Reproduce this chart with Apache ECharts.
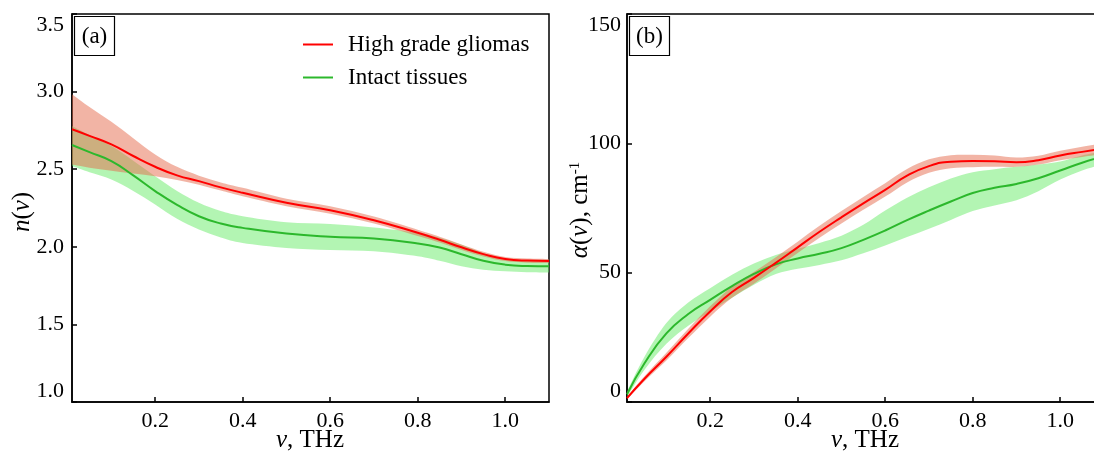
<!DOCTYPE html>
<html><head><meta charset="utf-8">
<script src="https://cdn.jsdelivr.net/npm/echarts@6/dist/echarts.min.js"></script>
<style>html,body{margin:0;padding:0;background:#fff}#c{width:1094px;height:455px}</style>
</head><body><div id="c"></div>
<script>
// ---- Panel (a): refractive index n(v) ----
const freqA = [0.01, 0.05, 0.1, 0.15, 0.2, 0.25, 0.3, 0.35, 0.4, 0.5, 0.6, 0.7, 0.8, 0.85, 0.9, 0.95, 1.0, 1.05, 1.1];
const gliomaN      = [2.757, 2.715, 2.66, 2.585, 2.516, 2.46, 2.423, 2.383, 2.348, 2.284, 2.236, 2.171, 2.09, 2.045, 1.997, 1.953, 1.921, 1.911, 1.909];
const gliomaNUpper = [2.983, 2.9, 2.805, 2.70, 2.595, 2.515, 2.458, 2.415, 2.38, 2.31, 2.262, 2.195, 2.11, 2.065, 2.015, 1.968, 1.935, 1.925, 1.922];
const gliomaNLower = [2.53, 2.51, 2.49, 2.472, 2.455, 2.43, 2.40, 2.362, 2.326, 2.262, 2.213, 2.15, 2.07, 2.028, 1.98, 1.938, 1.908, 1.898, 1.896];
const intactN      = [2.656, 2.61, 2.552, 2.46, 2.359, 2.27, 2.197, 2.15, 2.122, 2.085, 2.064, 2.053, 2.022, 1.995, 1.952, 1.91, 1.885, 1.876, 1.874];
const intactNUpper = [2.778, 2.72, 2.649, 2.555, 2.455, 2.36, 2.284, 2.23, 2.197, 2.158, 2.147, 2.125, 2.09, 2.058, 2.014, 1.96, 1.917, 1.913, 1.913];
const intactNLower = [2.52, 2.48, 2.434, 2.36, 2.273, 2.18, 2.111, 2.06, 2.025, 1.993, 1.98, 1.971, 1.939, 1.91, 1.874, 1.852, 1.842, 1.836, 1.835];

// ---- Panel (b): absorption coefficient alpha(v), cm^-1 ----
const freqB = [0.01, 0.05, 0.1, 0.15, 0.2, 0.25, 0.3, 0.35, 0.4, 0.45, 0.5, 0.55, 0.6, 0.65, 0.7, 0.75, 0.8, 0.85, 0.9, 0.95, 1.0, 1.05, 1.1];
const gliomaA      = [1.5, 9, 17.5, 26.5, 35, 42.5, 48, 53.8, 59.8, 65.8, 71.4, 76.8, 82, 87.5, 91.2, 92.9, 93.2, 93.1, 92.7, 93.5, 95.3, 96.7, 98];
const gliomaAUpper = [2, 10, 19, 28.3, 37, 44.7, 50.3, 56, 62, 68.1, 73.8, 79.3, 84.6, 90.1, 93.8, 95.4, 95.6, 95.3, 94.5, 95.2, 97.1, 98.7, 100.1];
const gliomaALower = [1, 8, 16, 24.7, 33, 40.3, 45.7, 51.6, 57.6, 63.5, 69, 74.3, 79.4, 84.9, 88.6, 90.4, 90.8, 90.9, 90.9, 91.8, 93.5, 94.7, 95.9];
const intactA      = [3, 15, 26.5, 34, 39.5, 44.8, 49.5, 53.2, 55.5, 57.3, 59.5, 62.7, 66.3, 70.3, 74, 77.5, 80.8, 82.8, 84.3, 86.5, 89.5, 92.5, 95];
const intactAUpper = [4, 17.5, 30.5, 38.5, 44, 49.2, 53.5, 56.8, 59.2, 61.5, 64.3, 68.5, 74, 79, 83, 86.4, 88.8, 90, 90.9, 91.8, 93, 95.3, 97];
const intactALower = [2, 12.5, 22.5, 29.5, 35, 40.3, 45.3, 49.5, 51.5, 53, 54.8, 57.5, 60.5, 63.8, 67, 70.4, 73.8, 76, 78, 81.5, 86, 89.5, 92];

const xTicks = [0.2, 0.4, 0.6, 0.8, 1.0];
const names = ['High grade gliomas', 'Intact tissues'];

const FONT = "'Liberation Serif','Times New Roman',serif";
const RED = '#ff0000', GREEN = '#2cb82c';
const RED_BAND = 'rgba(229,105,75,0.5)', GREEN_BAND = 'rgba(104,235,104,0.5)';

function pairs(xs, ys) { return xs.map((x, i) => [x, ys[i]]); }
// smooth curve (Catmull-Rom -> cubic Bezier) through pixel points
function curve(pts, start) {
  let d = start ? 'M' + pts[0][0] + ' ' + pts[0][1] : 'L' + pts[0][0] + ' ' + pts[0][1];
  for (let i = 0; i < pts.length - 1; i++) {
    const p0 = pts[i - 1] || pts[i], p1 = pts[i], p2 = pts[i + 1], p3 = pts[i + 2] || pts[i + 1];
    const c1 = [p1[0] + (p2[0] - p0[0]) / 6, p1[1] + (p2[1] - p0[1]) / 6];
    const c2 = [p2[0] - (p3[0] - p1[0]) / 6, p2[1] - (p3[1] - p1[1]) / 6];
    d += ' C' + c1[0] + ' ' + c1[1] + ' ' + c2[0] + ' ' + c2[1] + ' ' + p2[0] + ' ' + p2[1];
  }
  return d;
}
function band(xs, lo, hi, ai, color) {
  return {type: 'custom', xAxisIndex: ai, yAxisIndex: ai, clip: true, silent: true, z: 1,
    data: [[xs[0], lo[0]]],
    renderItem: function (params, api) {
      const up = xs.map((x, i) => api.coord([x, hi[i]]));
      const dn = xs.map((x, i) => api.coord([x, lo[i]])).reverse();
      return {type: 'path', shape: {pathData: curve(up, true) + ' ' + curve(dn, false) + ' Z'},
        style: {fill: color, stroke: null}};
    }};
}
function line(name, xs, ys, ai, color) {
  return {name: name, type: 'line', xAxisIndex: ai, yAxisIndex: ai, data: pairs(xs, ys), smooth: true,
    symbol: 'none', color: color, itemStyle: {color: color}, lineStyle: {color: color, width: 2}, z: 3};
}
function xAxis(gi) {
  return {type: 'value', gridIndex: gi, min: 0.01, max: 1.1,
    axisLine: {show: true, lineStyle: {color: '#000', width: 1.5}},
    axisTick: {show: true, inside: true, length: 5, customValues: xTicks, lineStyle: {color: '#000', width: 1.5}},
    axisLabel: {customValues: xTicks, formatter: v => v.toFixed(1), color: '#000', fontFamily: FONT, fontSize: 22, margin: 8},
    splitLine: {show: false}};
}
function yAxis(gi, min, max, interval, dec, margin) {
  return {type: 'value', gridIndex: gi, min: min, max: max, interval: interval,
    axisLine: {show: true, lineStyle: {color: '#000', width: 1.5}},
    axisTick: {show: true, inside: true, length: 5, lineStyle: {color: '#000', width: 1.5}},
    axisLabel: {formatter: v => v.toFixed(dec), color: '#000', fontFamily: FONT, fontSize: 22, margin: margin,
      verticalAlignMinLabel: 'bottom', verticalAlignMaxLabel: 'top'},
    splitLine: {show: false}};
}
function boxLabel(txt, x, y) {
  return {type: 'group', left: x, top: y, children: [
    {type: 'rect', shape: {x: 0, y: 0, width: 40, height: 39}, style: {fill: 'none', stroke: '#000', lineWidth: 1.2}},
    {type: 'text', x: 20, y: 20, style: {text: txt, fill: '#000', font: '23px ' + FONT, align: 'center', verticalAlign: 'middle'}}
  ]};
}
const NAME_SIZE = 25;
const ital = {fontStyle: 'italic', fontFamily: FONT, fontSize: NAME_SIZE, fill: '#000'};
const nameFont = NAME_SIZE + 'px ' + FONT;

const chart = echarts.init(document.getElementById('c'), null, {renderer: 'canvas'});
chart.setOption({
  animation: false,
  backgroundColor: '#fff',
  grid: [
    {left: 72, top: 14, width: 477, height: 388, show: true, borderColor: '#000', borderWidth: 1.5, containLabel: false, outerBoundsMode: 'none'},
    {left: 627, top: 14, width: 477, height: 388, show: true, borderColor: '#000', borderWidth: 1.5, containLabel: false, outerBoundsMode: 'none'}
  ],
  xAxis: [xAxis(0), xAxis(1)],
  yAxis: [yAxis(0, 1, 3.5, 0.5, 1, 8), yAxis(1, 0, 150, 50, 0, 6)],
  legend: {data: names, orient: 'vertical', left: 303, top: 33, padding: 0, itemWidth: 30, itemHeight: 2, itemGap: 10, icon: 'rect',
    textStyle: {fontFamily: FONT, fontSize: 23, color: '#000', padding: [0, 0, 0, 10]}},
  graphic: [
    boxLabel('(a)', 72, 14),
    boxLabel('(b)', 627, 14),
    {type: 'text', x: 310, y: 440, style: {text: '{i|ν}, THz', rich: {i: ital}, font: nameFont, fill: '#000', align: 'center', verticalAlign: 'middle'}},
    {type: 'text', x: 865, y: 440, style: {text: '{i|ν}, THz', rich: {i: ital}, font: nameFont, fill: '#000', align: 'center', verticalAlign: 'middle'}},
    {type: 'text', x: 22, y: 212, rotation: Math.PI / 2, style: {text: '{i|n}({i|ν})', rich: {i: ital}, font: nameFont, fill: '#000', align: 'center', verticalAlign: 'middle'}},
    {type: 'text', x: 580, y: 210, rotation: Math.PI / 2, style: {text: '{i|α}({i|ν}), cm{s|-1}', rich: {i: ital, s: {fontFamily: FONT, fontSize: 15, fill: '#000', verticalAlign: 'top'}}, font: nameFont, fill: '#000', align: 'center', verticalAlign: 'middle'}}
  ],
  series: [
    band(freqA, intactNLower, intactNUpper, 0, GREEN_BAND),
    band(freqA, gliomaNLower, gliomaNUpper, 0, RED_BAND),
    band(freqB, intactALower, intactAUpper, 1, GREEN_BAND),
    band(freqB, gliomaALower, gliomaAUpper, 1, RED_BAND),
    line(names[1], freqA, intactN, 0, GREEN),
    line(names[0], freqA, gliomaN, 0, RED),
    line(names[1], freqB, intactA, 1, GREEN),
    line(names[0], freqB, gliomaA, 1, RED)
  ]
});
</script></body></html>
